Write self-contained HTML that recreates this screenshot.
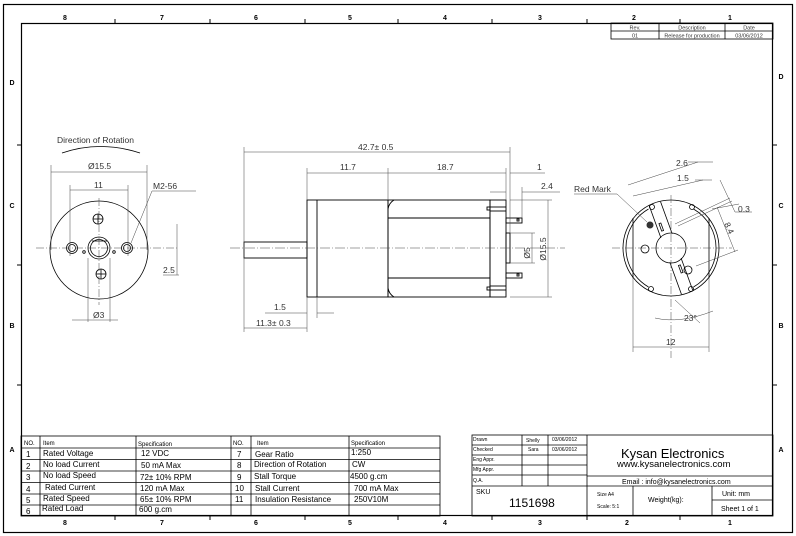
<!DOCTYPE html>
<html><head><meta charset="utf-8"><style>
html,body{margin:0;padding:0;background:#fff}
svg{display:block}
text{font-family:"Liberation Sans",sans-serif}
</style></head><body>
<svg width="796" height="536" viewBox="0 0 796 536" xmlns="http://www.w3.org/2000/svg">
<rect x="0" y="0" width="796" height="536" fill="#fff"/>
<rect x="3.5" y="4.5" width="789" height="528" fill="none" stroke="#000" stroke-width="1.2"/>
<rect x="21.5" y="23.5" width="751" height="492" fill="none" stroke="#000" stroke-width="1.2"/>
<g stroke="#000" stroke-width="1">
<line x1="115" y1="19" x2="115" y2="23"/><line x1="210" y1="19" x2="210" y2="23"/><line x1="305" y1="19" x2="305" y2="23"/><line x1="398" y1="19" x2="398" y2="23"/><line x1="492" y1="19" x2="492" y2="23"/><line x1="587" y1="19" x2="587" y2="23"/><line x1="680" y1="19" x2="680" y2="23"/>
<line x1="115" y1="516" x2="115" y2="520"/><line x1="210" y1="516" x2="210" y2="520"/><line x1="305" y1="516" x2="305" y2="520"/><line x1="398" y1="516" x2="398" y2="520"/><line x1="492" y1="516" x2="492" y2="520"/><line x1="587" y1="516" x2="587" y2="520"/><line x1="680" y1="516" x2="680" y2="520"/>
<line x1="17" y1="145" x2="21" y2="145"/><line x1="17" y1="265" x2="21" y2="265"/><line x1="17" y1="385" x2="21" y2="385"/>
<line x1="773" y1="145" x2="777" y2="145"/><line x1="773" y1="265" x2="777" y2="265"/><line x1="773" y1="385" x2="777" y2="385"/>
</g>
<g font-size="7" fill="#000" text-anchor="middle" font-weight="bold">
<text x="65" y="20">8</text><text x="162" y="20">7</text><text x="256" y="20">6</text><text x="350" y="20">5</text><text x="445" y="20">4</text><text x="540" y="20">3</text><text x="634" y="20">2</text><text x="730" y="20">1</text>
<text x="65" y="525">8</text><text x="162" y="525">7</text><text x="256" y="525">6</text><text x="350" y="525">5</text><text x="445" y="525">4</text><text x="540" y="525">3</text><text x="627" y="525">2</text><text x="730" y="525">1</text>
<text x="12" y="85">D</text><text x="12" y="208">C</text><text x="12" y="328">B</text><text x="12" y="452">A</text>
<text x="781" y="79">D</text><text x="781" y="208">C</text><text x="781" y="328">B</text><text x="781" y="452">A</text>
</g>
<g stroke="#000" stroke-width="0.8" fill="none">
<rect x="611" y="23" width="162" height="16"/>
<line x1="611" y1="31" x2="773" y2="31"/>
<line x1="659" y1="23" x2="659" y2="39"/><line x1="725" y1="23" x2="725" y2="39"/>
</g>
<g font-size="5.5" fill="#333" text-anchor="middle">
<text x="635" y="29.5">Rev.</text><text x="692" y="29.5">Description</text><text x="749" y="29.5">Date</text>
<text x="635" y="37.5">01</text><text x="692" y="37.5">Release for production</text><text x="749" y="37.5">03/06/2012</text>
</g>

<!-- LEFT VIEW -->
<g stroke="#000" stroke-width="0.8" fill="none">
<circle cx="99" cy="250" r="49"/>
<circle cx="99" cy="248" r="11"/>
<circle cx="99" cy="248" r="8.5"/>
<circle cx="72" cy="248" r="5.5"/><circle cx="72" cy="248" r="3.5"/>
<circle cx="127" cy="248" r="5.5"/><circle cx="127" cy="248" r="3.5"/>
<circle cx="84" cy="252" r="1.3"/><circle cx="114" cy="252" r="1.3"/>
<circle cx="98" cy="219" r="5"/><circle cx="101" cy="274" r="5"/>
<line x1="93" y1="219" x2="103" y2="219"/><line x1="98" y1="214" x2="98" y2="224"/>
<line x1="96" y1="274" x2="106" y2="274"/><line x1="101" y1="269" x2="101" y2="279"/>
<line x1="92" y1="241" x2="107" y2="241"/>
<path d="M62 153 Q 100 140 140 153"/>
</g>
<g stroke="#444" stroke-width="0.5" fill="none">
<line x1="36" y1="248" x2="177" y2="248" stroke-dasharray="8,2,1,2"/>
<line x1="99" y1="198" x2="99" y2="305" stroke-dasharray="8,2,1,2"/>
<line x1="51" y1="165" x2="51" y2="250"/><line x1="147" y1="165" x2="147" y2="250"/>
<line x1="51" y1="172" x2="147" y2="172"/>
<line x1="70" y1="185" x2="70" y2="256"/><line x1="128" y1="185" x2="128" y2="256"/>
<line x1="70" y1="190" x2="128" y2="190"/>
<line x1="152" y1="191" x2="196" y2="191"/><line x1="152" y1="191" x2="131" y2="243"/>
<line x1="177" y1="224" x2="177" y2="275"/><line x1="163" y1="275" x2="179" y2="275"/>
<line x1="88" y1="258" x2="88" y2="322"/><line x1="110" y1="258" x2="110" y2="322"/>
<line x1="72" y1="320" x2="118" y2="320"/>
</g>
<g font-size="8.5" fill="#333">
<text x="57" y="143">Direction of Rotation</text>
<text x="88" y="169">Ø15.5</text>
<text x="94" y="188">11</text>
<text x="153" y="189">M2-56</text>
<text x="163" y="273">2.5</text>
<text x="93" y="318">Ø3</text>
</g>

<!-- MIDDLE VIEW -->
<g stroke="#000" stroke-width="0.9" fill="none">
<rect x="244" y="242" width="63" height="16"/>
<rect x="307" y="200" width="81" height="97"/>
<line x1="317" y1="200" x2="317" y2="297"/>
<rect x="388" y="200" width="102" height="97"/>
<line x1="388" y1="218" x2="490" y2="218"/><line x1="388" y1="278" x2="490" y2="278"/>
<rect x="490" y="200" width="16" height="97"/>
<line x1="490" y1="207" x2="506" y2="207"/><line x1="490" y1="211" x2="506" y2="211"/>
<line x1="490" y1="286" x2="506" y2="286"/><line x1="490" y1="290" x2="506" y2="290"/>
<rect x="487" y="207" width="3" height="3"/><rect x="487" y="287" width="3" height="3"/>
<rect x="506" y="218" width="16" height="5"/><rect x="506" y="273" width="16" height="5"/>
<rect x="517" y="219" width="2" height="2"/><rect x="517" y="274" width="2" height="2"/>
<rect x="506" y="233" width="4" height="30"/>
<path d="M394 200 Q 389 203 388 209"/><path d="M394 297 Q 389 294 388 288"/>
</g>
<g stroke="#444" stroke-width="0.5" fill="none">
<line x1="230" y1="248" x2="565" y2="248" stroke-dasharray="10,2,1,2"/>
<line x1="244" y1="147" x2="244" y2="332"/>
<line x1="510" y1="147" x2="510" y2="233"/>
<line x1="244" y1="152" x2="510" y2="152"/>
<line x1="307" y1="168" x2="307" y2="200"/><line x1="388" y1="168" x2="388" y2="200"/><line x1="506" y1="168" x2="506" y2="200"/>
<line x1="307" y1="173" x2="506" y2="173"/><line x1="510" y1="173" x2="545" y2="173"/>
<line x1="522" y1="187" x2="522" y2="218"/>
<line x1="490" y1="192" x2="506" y2="192"/><line x1="522" y1="192" x2="560" y2="192"/>
<line x1="510" y1="200" x2="552" y2="200"/><line x1="510" y1="297" x2="552" y2="297"/>
<line x1="548" y1="200" x2="548" y2="297"/>
<line x1="510" y1="233" x2="535" y2="233"/><line x1="510" y1="263" x2="535" y2="263"/>
<line x1="532" y1="233" x2="532" y2="263"/>
<line x1="317" y1="297" x2="317" y2="318"/><line x1="307" y1="297" x2="307" y2="332"/>
<line x1="265" y1="313" x2="307" y2="313"/><line x1="317" y1="313" x2="334" y2="313"/>
<line x1="244" y1="328" x2="307" y2="328"/>
</g>
<g font-size="8.5" fill="#333">
<text x="358" y="150">42.7± 0.5</text>
<text x="340" y="170">11.7</text>
<text x="437" y="170">18.7</text>
<text x="537" y="170">1</text>
<text x="541" y="189">2.4</text>
<text x="274" y="310">1.5</text>
<text x="256" y="326">11.3± 0.3</text>
<text transform="translate(530 253) rotate(-90)" text-anchor="middle">Ø5</text>
<text transform="translate(546 249) rotate(-90)" text-anchor="middle">Ø15.5</text>
</g>

<!-- RIGHT VIEW -->
<g stroke="#000" stroke-width="0.8" fill="none">
<circle cx="671" cy="248" r="48"/>
<path d="M648.5 209 A45 45 0 0 0 648.5 287"/><path d="M693.5 209 A45 45 0 0 1 693.5 287"/>
<line x1="633" y1="218" x2="633" y2="278"/><line x1="709" y1="218" x2="709" y2="278"/>
<circle cx="671" cy="248" r="15"/>
<g transform="rotate(-20 671 248)">
<line x1="665" y1="201" x2="665" y2="235"/><line x1="677" y1="201" x2="677" y2="235"/>
<line x1="665" y1="261" x2="665" y2="295"/><line x1="677" y1="261" x2="677" y2="295"/>
<rect x="668" y="221" width="2" height="8"/><rect x="672" y="267" width="2" height="8"/>
</g>
<circle cx="645" cy="249" r="4"/><circle cx="688" cy="270" r="4"/>
<circle cx="652" cy="207" r="2.5"/><circle cx="692" cy="207" r="2.5"/>
<circle cx="651" cy="289" r="2.5"/><circle cx="691" cy="289" r="2.5"/>
</g>
<circle cx="650" cy="225" r="3.5" fill="#333"/>
<g stroke="#444" stroke-width="0.5" fill="none">
<line x1="612" y1="248" x2="732" y2="248" stroke-dasharray="8,2,1,2"/>
<line x1="671" y1="195" x2="671" y2="358" stroke-dasharray="8,2,1,2"/>
<line x1="633" y1="278" x2="633" y2="352"/><line x1="709" y1="278" x2="709" y2="352"/>
<line x1="633" y1="347" x2="709" y2="347"/>
<line x1="574" y1="194" x2="617" y2="194"/><line x1="617" y1="194" x2="647" y2="222"/>
<line x1="628" y1="185" x2="698" y2="162"/><line x1="688" y1="162" x2="713" y2="162"/>
<line x1="633" y1="196" x2="703" y2="180"/><line x1="695" y1="180" x2="712" y2="180"/>
<line x1="675" y1="224" x2="730" y2="198"/><line x1="678" y1="226" x2="732" y2="201"/>
<line x1="720" y1="180" x2="735" y2="212"/><line x1="735" y1="212" x2="752" y2="212"/>
<line x1="712" y1="209" x2="739" y2="204"/><line x1="696" y1="266" x2="738" y2="250"/>
<line x1="717" y1="207" x2="735" y2="252"/>
<path d="M655 318 Q 680 324 713 311"/>
<line x1="675" y1="300" x2="700" y2="323"/>
</g>
<g font-size="8.5" fill="#333">
<text x="574" y="192">Red Mark</text>
<text x="676" y="166">2.6</text>
<text x="677" y="181">1.5</text>
<text x="738" y="212">0.3</text>
<text transform="translate(724 224) rotate(65)">8.4</text>
<text x="684" y="321">23°</text>
<text x="666" y="345">12</text>
</g>

<!-- SPEC TABLE -->
<g stroke="#000" stroke-width="0.8" fill="none">
<rect x="21" y="436" width="419" height="80"/>
<line x1="40" y1="436" x2="40" y2="516"/><line x1="136" y1="436" x2="136" y2="516"/>
<line x1="231" y1="436" x2="231" y2="516"/><line x1="251" y1="436" x2="251" y2="516"/><line x1="349" y1="436" x2="349" y2="516"/>
<line x1="21" y1="448" x2="440" y2="448"/><line x1="21" y1="459.5" x2="440" y2="459.5"/><line x1="21" y1="471" x2="440" y2="471"/>
<line x1="21" y1="482.5" x2="440" y2="482.5"/><line x1="21" y1="494" x2="440" y2="494"/><line x1="21" y1="505" x2="440" y2="505"/>
</g>
<g font-size="6" fill="#000">
<text x="24" y="445">NO.</text><text x="43" y="445">Item</text><text x="138" y="446">Specification</text>
<text x="233" y="445">NO.</text><text x="257" y="445">Item</text><text x="351" y="445">Specification</text>
</g>
<g font-size="8" fill="#000">
<text x="26" y="457">1</text><text x="43" y="456">Rated Voltage</text><text x="141" y="456">12 VDC</text>
<text x="26" y="469">2</text><text x="43" y="467">No load Current</text><text x="141" y="468">50 mA Max</text>
<text x="26" y="480">3</text><text x="43" y="478">No load Speed</text><text x="140" y="480">72± 10% RPM</text>
<text x="26" y="492">4</text><text x="45" y="490">Rated Current</text><text x="140" y="491">120 mA Max</text>
<text x="26" y="503">5</text><text x="43" y="501">Rated Speed</text><text x="140" y="502">65± 10% RPM</text>
<text x="26" y="514">6</text><text x="42" y="511">Rated Load</text><text x="139" y="512">600 g.cm</text>
<text x="237" y="457">7</text><text x="255" y="457">Gear Ratio</text><text x="351" y="455">1:250</text>
<text x="237" y="468">8</text><text x="254" y="467">Direction of Rotation</text><text x="352" y="467">CW</text>
<text x="237" y="480">9</text><text x="254" y="479">Stall Torque</text><text x="350" y="479">4500 g.cm</text>
<text x="235" y="491">10</text><text x="255" y="491">Stall Current</text><text x="354" y="491">700 mA Max</text>
<text x="235" y="502">11</text><text x="255" y="502">Insulation Resistance</text><text x="354" y="502">250V10M</text>
</g>

<!-- TITLE BLOCK -->
<g stroke="#000" stroke-width="0.8" fill="none">
<rect x="472" y="435" width="301" height="81"/>
<line x1="522" y1="435" x2="522" y2="486"/><line x1="548" y1="435" x2="548" y2="486"/><line x1="587" y1="435" x2="587" y2="516"/>
<line x1="472" y1="445" x2="587" y2="445"/><line x1="472" y1="455" x2="587" y2="455"/><line x1="472" y1="465" x2="587" y2="465"/><line x1="472" y1="475" x2="587" y2="475"/>
<line x1="587" y1="476" x2="773" y2="476"/>
<line x1="472" y1="486" x2="773" y2="486"/>
<line x1="633" y1="486" x2="633" y2="516"/><line x1="712" y1="486" x2="712" y2="516"/>
<line x1="712" y1="500" x2="773" y2="500"/>
</g>
<g font-size="5" fill="#000">
<text x="473" y="441">Drawn</text><text x="526" y="442">Shelly</text><text x="552" y="441">03/06/2012</text>
<text x="473" y="451">Checked</text><text x="528" y="451">Sara</text><text x="552" y="451">03/06/2012</text>
<text x="473" y="461">Eng Appr.</text><text x="473" y="471">Mfg Appr.</text><text x="473" y="482">Q.A.</text>
<text x="597" y="496">Size A4</text><text x="597" y="508">Scale: 5:1</text>
</g>
<text x="621" y="458" font-size="13" fill="#000">Kysan Electronics</text>
<text x="617" y="467" font-size="9.5" fill="#000">www.kysanelectronics.com</text>
<text x="622" y="484" font-size="7" fill="#000">Email : info@kysanelectronics.com</text>
<text x="476" y="494" font-size="7" fill="#000">SKU</text>
<text x="509" y="507" font-size="12" fill="#000">1151698</text>
<text x="648" y="502" font-size="7" fill="#000">Weight(kg):</text>
<text x="722" y="496" font-size="7" fill="#000">Unit: mm</text>
<text x="721" y="511" font-size="7" fill="#000">Sheet 1 of 1</text>
</svg>
</body></html>
